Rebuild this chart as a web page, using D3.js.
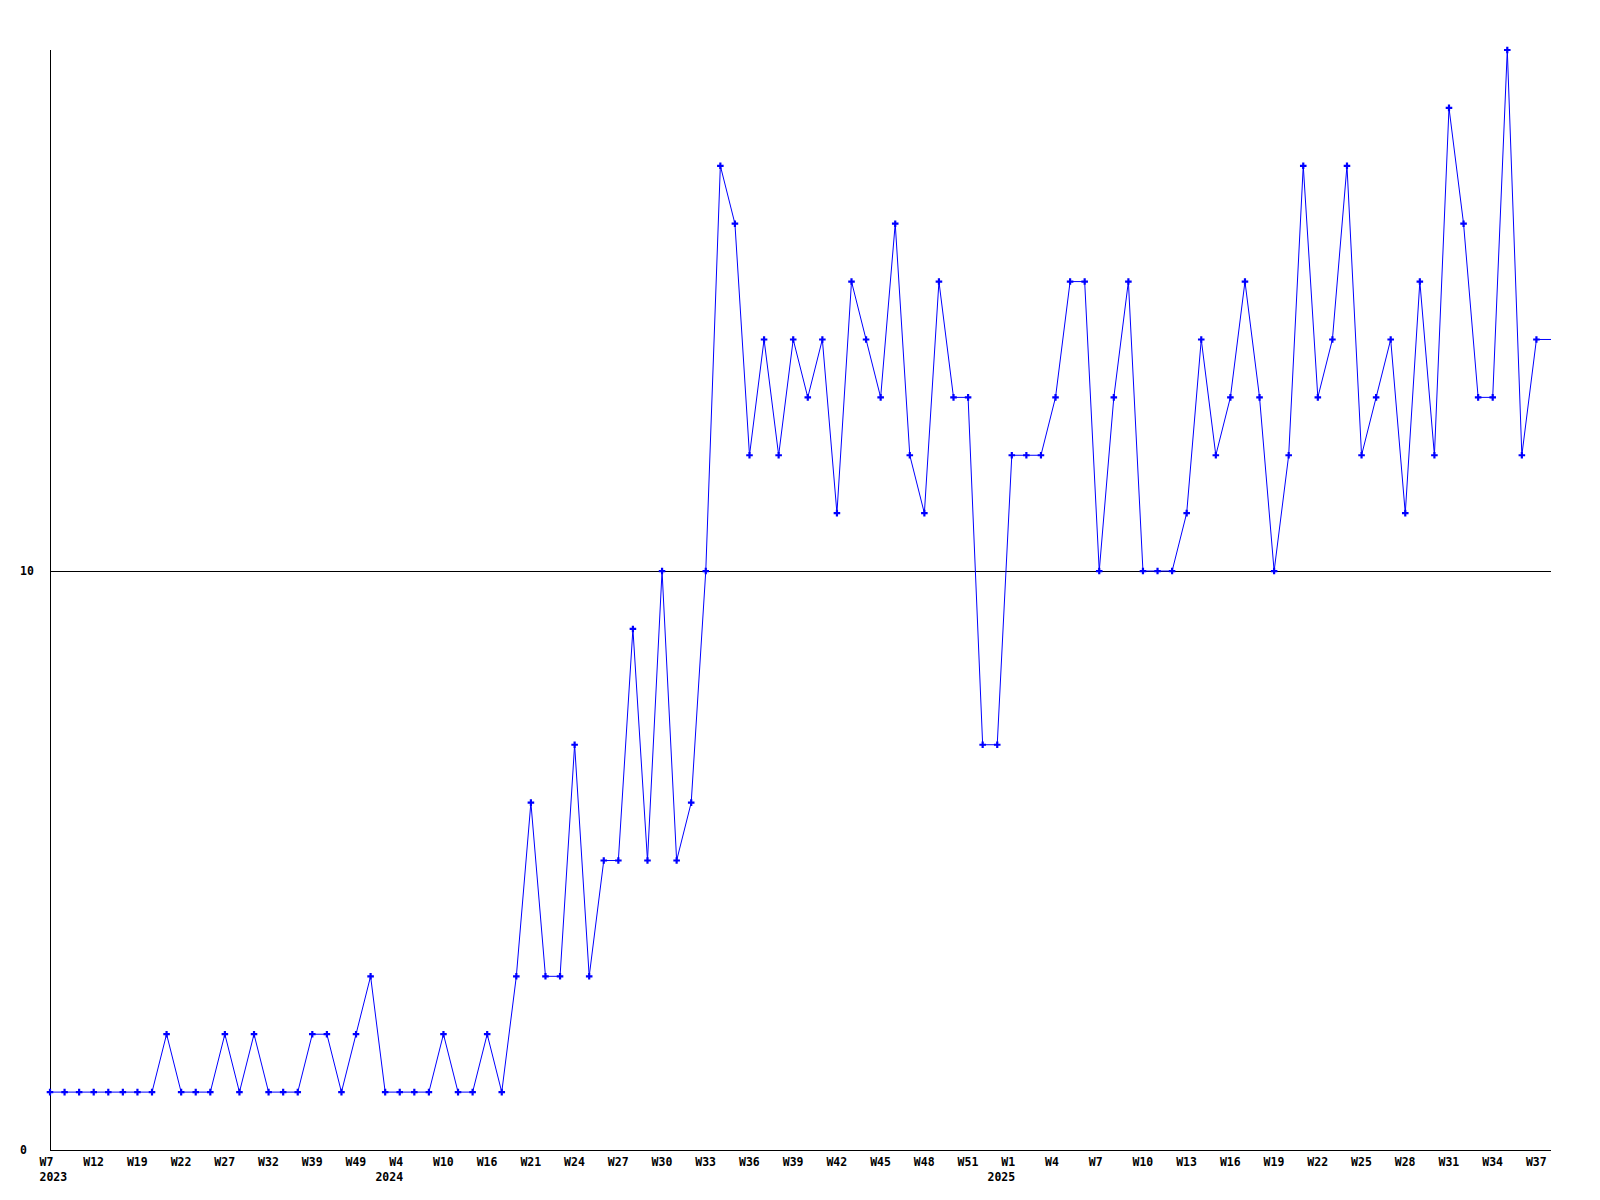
<!DOCTYPE html>
<html lang="en">
<head>
  <meta charset="utf-8">
  <script src="https://d3js.org/d3.v7.min.js"></script>
  <style>
    body { margin: 0; background: #fff; }
    text { font-family: "DejaVu Sans Mono", "Liberation Mono", monospace; font-weight: bold; font-size: 11.5px; fill: #000; }
  </style>
</head>
<body>
  <svg width="1600" height="1200" id="chart"></svg>
  <script>
    // weekly values, one per point
    let values = [
      1, 1, 1, 1, 1, 1, 1, 1, 2, 1,
      1, 1, 2, 1, 2, 1, 1, 1, 2, 2,
      1, 2, 3, 1, 1, 1, 1, 2, 1, 1,
      2, 1, 3, 6, 3, 3, 7, 3, 5, 5,
      9, 5, 10, 5, 6, 10, 17, 16, 12, 14,
      12, 14, 13, 14, 11, 15, 14, 13, 16, 12,
      11, 15, 13, 13, 7, 7, 12, 12, 12, 13,
      15, 15, 10, 13, 15, 10, 10, 10, 11, 14,
      12, 13, 15, 13, 10, 12, 17, 13, 14, 17,
      12, 13, 14, 11, 15, 12, 18, 16, 13, 13,
      19, 12, 14
    ];

    // x labels, every third point
    let weekLabels = ["W7", "W12", "W19", "W22", "W27", "W32", "W39", "W49", "W4", "W10",
      "W16", "W21", "W24", "W27", "W30", "W33", "W36", "W39", "W42", "W45",
      "W48", "W51", "W1", "W4", "W7", "W10", "W13", "W16", "W19", "W22",
      "W25", "W28", "W31", "W34", "W37"];
    let yearLabels = [{ idx: 0, text: "2023" }, { idx: 8, text: "2024" }, { idx: 22, text: "2025" }];
    let yTicks = [0, 10];

    let svg = d3.select("#chart");
    let plotLeft = 50, plotRight = 1551, plotTop = 50, plotBottom = 1150;

    let x = d3.scaleLinear().domain([0, values.length]).range([plotLeft, plotRight]);
    let y = d3.scaleLinear().domain([0, 19]).range([plotBottom, plotTop]);

    // gridline at 10
    svg.append("line")
      .attr("x1", plotLeft).attr("x2", plotRight)
      .attr("y1", Math.round(y(10)) + 0.5).attr("y2", Math.round(y(10)) + 0.5)
      .attr("stroke", "#000").attr("stroke-width", 1);

    // axes
    svg.append("line")
      .attr("x1", plotLeft + 0.5).attr("x2", plotLeft + 0.5)
      .attr("y1", plotTop).attr("y2", plotBottom)
      .attr("stroke", "#000");
    svg.append("line")
      .attr("x1", plotLeft).attr("x2", plotRight)
      .attr("y1", plotBottom + 0.5).attr("y2", plotBottom + 0.5)
      .attr("stroke", "#000");

    // y labels
    svg.selectAll(".ylab").data(yTicks).enter()
      .append("text")
      .attr("class", "ylab")
      .attr("x", 20)
      .attr("y", d => y(d) + 4)
      .text(d => d);

    // week labels
    let wk = svg.selectAll(".wk").data(weekLabels).enter()
      .append("text")
      .attr("class", "wk")
      .attr("x", (d, i) => x(i * 3) - 10.5)
      .attr("y", 1166)
      .text(d => d);

    // year labels under their week label
    yearLabels.forEach((yl, k) => {
      let node = wk.nodes()[yl.idx];
      let sx = x(yl.idx * 3) - 10.5;
      let ex = sx + node.getComputedTextLength();
      svg.append("text")
        .attr("x", k === 0 ? sx : ex)
        .attr("text-anchor", k === 0 ? "start" : "end")
        .attr("y", 1181)
        .text(yl.text);
    });

    // line, last value runs on to the axis end
    let linePts = values.map((v, i) => [x(i), y(v)]);
    linePts.push([x(values.length), y(values[values.length - 1])]);
    svg.append("path")
      .attr("d", d3.line()(linePts))
      .attr("fill", "none")
      .attr("stroke", "#0000ff")
      .attr("stroke-width", 1);

    // markers
    svg.selectAll(".pt").data(values).enter()
      .append("path")
      .attr("class", "pt")
      .attr("transform", (d, i) => "translate(" + x(i) + "," + y(d) + ")")
      .attr("d", d3.symbol().type(d3.symbolCross).size(24))
      .attr("fill", "#0000ff");
  </script>
</body>
</html>
